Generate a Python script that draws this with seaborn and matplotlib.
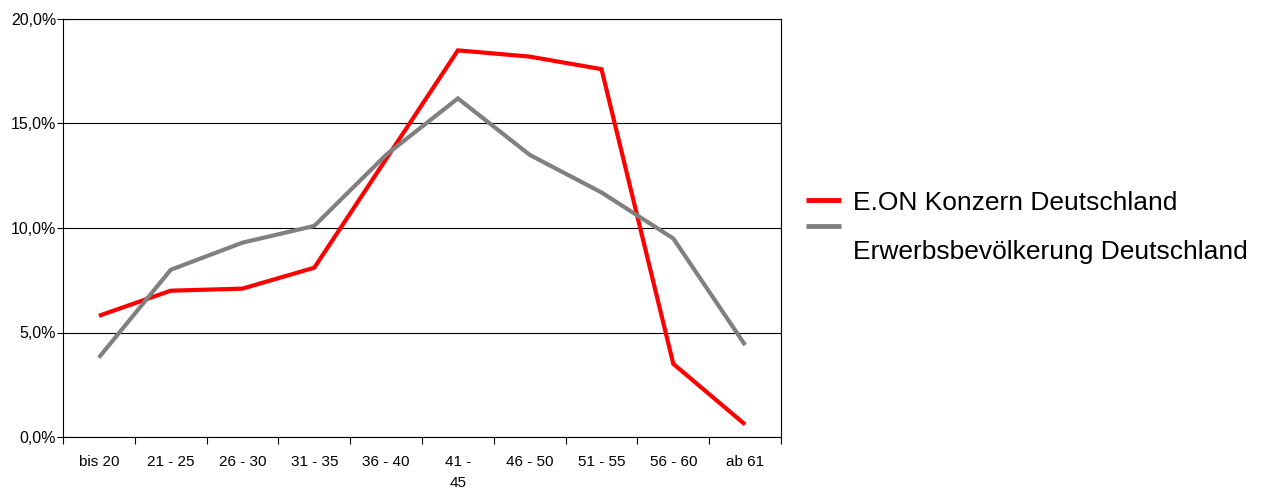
import pandas as pd
import seaborn as sns
import matplotlib
import matplotlib.pyplot as plt
import matplotlib.ticker as mticker

matplotlib.use('Agg')
sns.set_style("white")
plt.rcParams['font.family'] = ['Liberation Sans', 'DejaVu Sans']
plt.rcParams['text.color'] = 'black'
plt.rcParams['xtick.color'] = 'black'
plt.rcParams['ytick.color'] = 'black'

# ------------------------------- Daten
altersgruppen = ['bis 20', '21 - 25', '26 - 30', '31 - 35', '36 - 40',
                 '41 -\n45', '46 - 50', '51 - 55', '56 - 60', 'ab 61']
eon_konzern = [5.8, 7.0, 7.1, 8.1, 13.3, 18.5, 18.2, 17.6, 3.5, 0.6]
erwerbsbevoelkerung = [3.8, 8.0, 9.3, 10.1, 13.5, 16.2, 13.5, 11.7, 9.5, 4.4]
serien = ['E.ON Konzern Deutschland', 'Erwerbsbevölkerung Deutschland']
farben = ['#ff0000', '#808080']

df = pd.DataFrame({
    'Alter': altersgruppen * 2,
    'Anteil': eon_konzern + erwerbsbevoelkerung,
    'Serie': [serien[0]] * len(altersgruppen) + [serien[1]] * len(altersgruppen),
})
df['Pos'] = list(range(len(altersgruppen))) * 2

fig = plt.figure(figsize=(12.69, 4.88), dpi=100)
ax = fig.add_axes([63 / 1269, 1 - 437 / 488, (781 - 63) / 1269, (437 - 19) / 488])

sns.lineplot(data=df, x='Pos', y='Anteil', hue='Serie', palette=farben,
             linewidth=3, sort=False, ax=ax)
for line in ax.get_lines():
    line.set_solid_capstyle('butt')
    line.set_solid_joinstyle('miter')

# Achsen
ax.set_xlim(-0.5, len(altersgruppen) - 0.5)
ax.set_ylim(0, 20)
ax.set_xlabel('')
ax.set_ylabel('')

ax.yaxis.set_major_locator(mticker.MultipleLocator(5))
ax.yaxis.set_major_formatter(mticker.FuncFormatter(lambda v, p: f'{v:.1f}'.replace('.', ',') + '%'))
ax.yaxis.grid(True, color='black', linewidth=0.8)
ax.xaxis.grid(False)

# Tick-Striche an den Grenzen, Beschriftung in der Mitte
ax.xaxis.set_major_locator(mticker.FixedLocator([i - 0.5 for i in range(len(altersgruppen) + 1)]))
ax.xaxis.set_major_formatter(mticker.NullFormatter())
ax.xaxis.set_minor_locator(mticker.FixedLocator(range(len(altersgruppen))))
ax.xaxis.set_minor_formatter(mticker.FixedFormatter(altersgruppen))
ax.tick_params(axis='x', which='major', direction='out', length=5, width=0.8, color='black', bottom=True)
ax.tick_params(axis='x', which='minor', length=0, pad=13, labelsize=11, labelcolor='black', bottom=True)
ax.tick_params(axis='y', which='major', direction='out', length=4, width=0.8, color='black',
               left=True, pad=1, labelsize=11.5, labelcolor='black')
for lbl in ax.xaxis.get_minorticklabels():
    lbl.set_linespacing(1.6)

for s in ax.spines.values():
    s.set_visible(True)
    s.set_color('black')
    s.set_linewidth(0.8)

# Legende
ax.get_legend().remove()
handles, labels = ax.get_legend_handles_labels()
leg = fig.legend(handles, labels, loc='upper left', bbox_to_anchor=(795 / 1269, 1 - 180 / 488),
                 frameon=False, fontsize=19, handlelength=1.35, handletextpad=0.45,
                 labelspacing=0.08, borderaxespad=0)
for line in leg.get_lines():
    line.set_linewidth(3.5)
    line.set_solid_capstyle('butt')
for t in leg.get_texts():
    t.set_color('black')
leg.get_texts()[1].set_y(-23)

plt.savefig('out.png', dpi=100)
